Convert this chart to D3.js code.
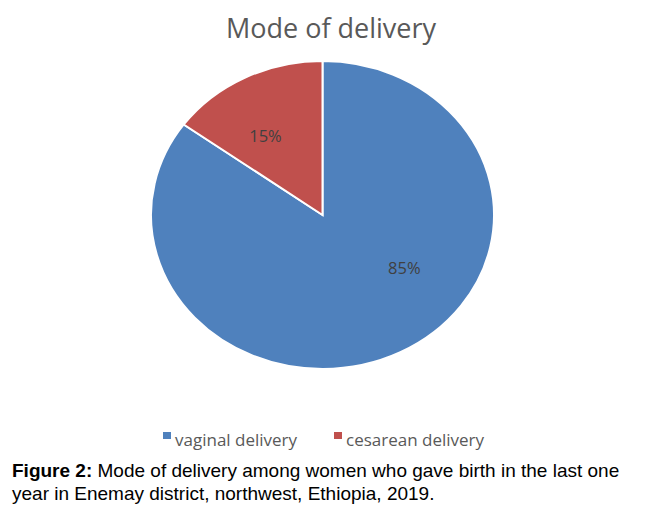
<!DOCTYPE html>
<html>
<head>
<meta charset="utf-8">
<script src="https://cdn.jsdelivr.net/npm/d3@7"></script>
<style>
  body { margin: 0; background: #fff; }
</style>
</head>
<body>
<div class="chart"></div>
<script>
// data
var categories = ["vaginal delivery", "cesarean delivery"];
var values = [85, 15];
var colors = ["#4f81bd", "#c0504d"];

var svgWidth = 664,
    svgHeight = 515;

var cx = 322.5, cy = 215,
    rx = 171.5, ry = 154;

var svg = d3.select(".chart")
    .append("svg")
    .attr("width", svgWidth)
    .attr("height", svgHeight);

// title
svg.append("text")
    .attr("x", 331)
    .attr("y", 38)
    .attr("text-anchor", "middle")
    .style("font-family", "'Open Sans', sans-serif")
    .style("font-size", "27px")
    .style("fill", "#595959")
    .text("Mode of delivery");

var data = categories.map(function(c, i) { return { name: c, value: values[i] }; });

// pie goes clockwise from 12 o'clock, vaginal first
var pie = d3.pie()
    .sort(null)
    .value(function(d) { return d.value; });

var arc = d3.arc()
    .innerRadius(0)
    .outerRadius(rx);

var color = d3.scaleOrdinal().domain(categories).range(colors);

// the chart is a bit squashed vertically, so scale the pie into an ellipse
var g = svg.append("g")
    .attr("transform", "translate(" + cx + "," + cy + ") scale(1," + (ry / rx) + ")");

var arcs = pie(data);

g.selectAll("path")
    .data(arcs)
    .enter()
    .append("path")
    .attr("d", arc)
    .attr("fill", function(d) { return color(d.data.name); })
    .attr("stroke", "#fff")
    .attr("stroke-width", 2)
    .attr("vector-effect", "non-scaling-stroke");

// percentage labels: excel's "best fit" spot, given as angle (deg) + radius fraction
var labelSpot = [{ ang: 126, r: 0.59 }, { ang: -33, r: 0.61 }];

svg.selectAll(".pct")
    .data(arcs)
    .enter()
    .append("text")
    .attr("class", "pct")
    .attr("x", function(d, i) {
        var a = labelSpot[i].ang * Math.PI / 180;
        return cx + Math.sin(a) * rx * labelSpot[i].r;
    })
    .attr("y", function(d, i) {
        var a = labelSpot[i].ang * Math.PI / 180;
        return cy - Math.cos(a) * ry * labelSpot[i].r * rx / rx + 6;
    })
    .attr("text-anchor", "middle")
    .style("font-family", "'Open Sans', sans-serif")
    .style("font-size", "16.5px")
    .style("fill", "#404040")
    .text(function(d) { return d.data.value + "%"; });

// legend
var legendX = [163, 334];
var legend = svg.selectAll(".legend")
    .data(data)
    .enter()
    .append("g")
    .attr("class", "legend")
    .attr("transform", function(d, i) { return "translate(" + legendX[i] + ",432)"; });

legend.append("rect")
    .attr("width", 8)
    .attr("height", 7)
    .attr("fill", function(d) { return color(d.name); });

legend.append("text")
    .attr("x", 12)
    .attr("y", 14)
    .style("font-family", "'Open Sans', sans-serif")
    .style("font-size", "17px")
    .style("fill", "#595959")
    .text(function(d) { return d.name; });

// caption
var caption = svg.append("text")
    .style("font-family", "'Liberation Sans', Arial, sans-serif")
    .style("font-size", "19px")
    .style("fill", "#000");

var line1 = caption.append("tspan").attr("x", 12).attr("y", 477);
line1.append("tspan").style("font-weight", "bold").text("Figure 2:");
line1.append("tspan").text(" Mode of delivery among women who gave birth in the last one");

caption.append("tspan")
    .attr("x", 12)
    .attr("y", 500)
    .text("year in Enemay district, northwest, Ethiopia, 2019.");
</script>
</body>
</html>
